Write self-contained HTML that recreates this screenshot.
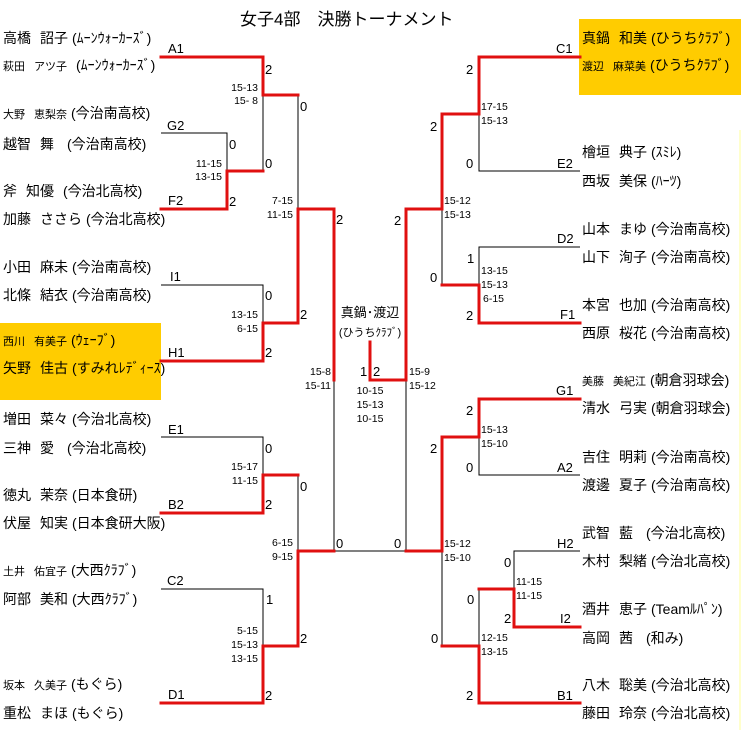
<!DOCTYPE html>
<html><head><meta charset="utf-8"><style>
body{margin:0;background:#fff;}
#c{position:relative;width:741px;height:742px;overflow:hidden;background:#fff;font-family:"Liberation Sans","Noto Sans CJK JP",sans-serif;color:#000;}
.t{position:absolute;white-space:nowrap;line-height:16px;height:16px;}
.n{font-size:14px;}
.s{font-size:10.5px;}
.sm{font-size:11px;}
.l{font-size:13px;}
i{display:inline-block;width:9px;}
b{font-weight:normal;display:inline-block;width:4px;}
</style></head><body><div id="c">
<div style="position:absolute;left:0;top:323px;width:161px;height:77px;background:#ffcc00"></div>
<div style="position:absolute;left:579px;top:19px;width:162px;height:76px;background:#ffcc00"></div>
<div style="position:absolute;left:739px;top:130px;width:2px;height:600px;background:#ffffcc"></div>
<svg width="741" height="742" style="position:absolute;left:0;top:0">
<g stroke="#000" stroke-width="1" fill="none">
<path d="M161 133H227V171M263 95V171M298 95V209M161 285H263V323M161 437H263V475M298 475V551M161 589H263V646M334 380V551H406V380M479 114V171H580M442 209V285M580 247H479V285M479 437V475H580M442 551V646M580 551H514V589M479 589V646"/>
</g>
<g stroke="#e01010" stroke-width="3" fill="none" stroke-linecap="square">
<path d="M161 57H263V95H298M161 209H227V171H263M298 209H334V380M161 361H263V323H298V209M161 513H263V475H298M161 703H263V646H298V551H334M370 342V380H406V209H442V114H479V57H580M479 285H442M580 323H479V285M580 399H479V437H442V551H406M580 627H514V589H479M580 703H479V646H442"/>
</g>
</svg>
<div class="t" style="left:240px;top:10px;font-size:17px;line-height:20px;height:20px">女子4部　決勝トーナメント</div>
<!-- left names -->
<div class="t n" style="left:3px;top:30px">高橋<i></i>詔子<b></b>(ﾑｰﾝｳｫｰｶｰｽﾞ)</div>
<div class="t n" style="left:3px;top:57px"><span class="sm">萩田<i></i>アツ子</span><i></i>(ﾑｰﾝｳｫｰｶｰｽﾞ)</div>
<div class="t n" style="left:3px;top:105px"><span class="sm">大野<i></i>恵梨奈</span><b></b>(今治南高校)</div>
<div class="t n" style="left:3px;top:136px">越智<i></i>舞<i></i><b></b>(今治南高校)</div>
<div class="t n" style="left:3px;top:183px">斧<i></i>知優<i></i>(今治北高校)</div>
<div class="t n" style="left:3px;top:211px">加藤<i></i>ささら<b></b>(今治北高校)</div>
<div class="t n" style="left:3px;top:259px">小田<i></i>麻未<b></b>(今治南高校)</div>
<div class="t n" style="left:3px;top:287px">北條<i></i>結衣<b></b>(今治南高校)</div>
<div class="t n" style="left:3px;top:332px"><span class="sm">西川<i></i>有美子</span><b></b>(ｳｪｰﾌﾞ)</div>
<div class="t n" style="left:3px;top:360px">矢野<i></i>佳古<b></b>(すみれﾚﾃﾞｨｰｽ)</div>
<div class="t n" style="left:3px;top:411px">増田<i></i>菜々<b></b>(今治北高校)</div>
<div class="t n" style="left:3px;top:440px">三神<i></i>愛<i></i><b></b>(今治北高校)</div>
<div class="t n" style="left:3px;top:487px">徳丸<i></i>茉奈<b></b>(日本食研)</div>
<div class="t n" style="left:3px;top:515px">伏屋<i></i>知実<b></b>(日本食研大阪)</div>
<div class="t n" style="left:3px;top:562px"><span class="sm">土井<i></i>佑宜子</span><b></b>(大西ｸﾗﾌﾞ)</div>
<div class="t n" style="left:3px;top:591px">阿部<i></i>美和<b></b>(大西ｸﾗﾌﾞ)</div>
<div class="t n" style="left:3px;top:676px"><span class="sm">坂本<i></i>久美子</span><b></b>(もぐら)</div>
<div class="t n" style="left:3px;top:705px">重松<i></i>まほ<b></b>(もぐら)</div>
<!-- right names -->
<div class="t n" style="left:582px;top:30px">真鍋<i></i>和美<b></b>(ひうちｸﾗﾌﾞ)</div>
<div class="t n" style="left:582px;top:57px"><span class="sm">渡辺<i></i>麻菜美</span><b></b>(ひうちｸﾗﾌﾞ)</div>
<div class="t n" style="left:582px;top:144px">檜垣<i></i>典子<b></b>(ｽﾐﾚ)</div>
<div class="t n" style="left:582px;top:173px">西坂<i></i>美保<b></b>(ﾊｰﾂ)</div>
<div class="t n" style="left:582px;top:221px">山本<i></i>まゆ<b></b>(今治南高校)</div>
<div class="t n" style="left:582px;top:249px">山下<i></i>洵子<b></b>(今治南高校)</div>
<div class="t n" style="left:582px;top:297px">本宮<i></i>也加<b></b>(今治南高校)</div>
<div class="t n" style="left:582px;top:325px">西原<i></i>桜花<b></b>(今治南高校)</div>
<div class="t n" style="left:582px;top:372px"><span class="sm">美藤<i></i>美紀江</span><b></b>(朝倉羽球会)</div>
<div class="t n" style="left:582px;top:400px">清水<i></i>弓実<b></b>(朝倉羽球会)</div>
<div class="t n" style="left:582px;top:449px">吉住<i></i>明莉<b></b>(今治南高校)</div>
<div class="t n" style="left:582px;top:477px">渡邊<i></i>夏子<b></b>(今治南高校)</div>
<div class="t n" style="left:582px;top:525px">武智<i></i>藍<i></i><b></b>(今治北高校)</div>
<div class="t n" style="left:582px;top:553px">木村<i></i>梨緒<b></b>(今治北高校)</div>
<div class="t n" style="left:582px;top:601px">酒井<i></i>恵子<b></b>(Teamﾙﾊﾟﾝ)</div>
<div class="t n" style="left:582px;top:630px">高岡<i></i>茜<i></i><b></b>(和み)</div>
<div class="t n" style="left:582px;top:677px">八木<i></i>聡美<b></b>(今治北高校)</div>
<div class="t n" style="left:582px;top:705px">藤田<i></i>玲奈<b></b>(今治北高校)</div>
<!-- left labels -->
<div class="t l" style="left:168px;top:41px">A1</div>
<div class="t l" style="left:265px;top:62px">2</div>
<div class="t s" style="right:483px;top:80px">15-13</div>
<div class="t s" style="right:483px;top:93px">15- 8</div>
<div class="t l" style="left:300px;top:99px">0</div>
<div class="t l" style="left:167px;top:118px">G2</div>
<div class="t l" style="left:229px;top:137px">0</div>
<div class="t s" style="right:519px;top:156px">11-15</div>
<div class="t s" style="right:519px;top:169px">13-15</div>
<div class="t l" style="left:265px;top:156px">0</div>
<div class="t l" style="left:168px;top:193px">F2</div>
<div class="t l" style="left:229px;top:194px">2</div>
<div class="t s" style="right:448px;top:193px">7-15</div>
<div class="t s" style="right:448px;top:207px">11-15</div>
<div class="t l" style="left:336px;top:212px">2</div>
<div class="t l" style="left:170px;top:269px">I1</div>
<div class="t l" style="left:265px;top:288px">0</div>
<div class="t s" style="right:483px;top:307px">13-15</div>
<div class="t s" style="right:483px;top:321px">6-15</div>
<div class="t l" style="left:300px;top:307px">2</div>
<div class="t l" style="left:168px;top:345px">H1</div>
<div class="t l" style="left:265px;top:345px">2</div>
<!-- center -->
<div class="t n" style="left:330px;top:305px;width:80px;text-align:center;font-size:13px">真鍋･渡辺</div>
<div class="t" style="left:330px;top:325px;width:80px;text-align:center;font-size:11px">(ひうちｸﾗﾌﾞ)</div>
<div class="t s" style="right:410px;top:364px">15-8</div>
<div class="t s" style="right:410px;top:378px">15-11</div>
<div class="t l" style="left:360px;top:364px">1</div>
<div class="t l" style="left:373px;top:364px">2</div>
<div class="t s" style="left:335px;top:383px;width:70px;text-align:center">10-15</div>
<div class="t s" style="left:335px;top:397px;width:70px;text-align:center">15-13</div>
<div class="t s" style="left:335px;top:411px;width:70px;text-align:center">10-15</div>
<div class="t s" style="left:409px;top:364px">15-9</div>
<div class="t s" style="left:409px;top:378px">15-12</div>
<!-- bottom left -->
<div class="t l" style="left:168px;top:422px">E1</div>
<div class="t l" style="left:265px;top:441px">0</div>
<div class="t s" style="right:483px;top:459px">15-17</div>
<div class="t s" style="right:483px;top:473px">11-15</div>
<div class="t l" style="left:300px;top:479px">0</div>
<div class="t l" style="left:168px;top:497px">B2</div>
<div class="t l" style="left:265px;top:497px">2</div>
<div class="t s" style="right:448px;top:535px">6-15</div>
<div class="t s" style="right:448px;top:549px">9-15</div>
<div class="t l" style="left:336px;top:536px">0</div>
<div class="t l" style="left:167px;top:573px">C2</div>
<div class="t l" style="left:266px;top:592px">1</div>
<div class="t s" style="right:483px;top:623px">5-15</div>
<div class="t s" style="right:483px;top:637px">15-13</div>
<div class="t s" style="right:483px;top:651px">13-15</div>
<div class="t l" style="left:300px;top:631px">2</div>
<div class="t l" style="left:168px;top:687px">D1</div>
<div class="t l" style="left:265px;top:688px">2</div>
<!-- right labels -->
<div class="t l" style="left:556px;top:41px">C1</div>
<div class="t l" style="left:466px;top:62px">2</div>
<div class="t s" style="left:481px;top:99px">17-15</div>
<div class="t s" style="left:481px;top:113px">15-13</div>
<div class="t l" style="left:430px;top:119px">2</div>
<div class="t l" style="left:466px;top:156px">0</div>
<div class="t l" style="left:557px;top:156px">E2</div>
<div class="t s" style="left:444px;top:193px">15-12</div>
<div class="t s" style="left:444px;top:207px">15-13</div>
<div class="t l" style="left:394px;top:213px">2</div>
<div class="t l" style="left:557px;top:231px">D2</div>
<div class="t l" style="left:467px;top:251px">1</div>
<div class="t s" style="left:481px;top:263px">13-15</div>
<div class="t s" style="left:481px;top:277px">15-13</div>
<div class="t s" style="left:483px;top:291px">6-15</div>
<div class="t l" style="left:430px;top:270px">0</div>
<div class="t l" style="left:466px;top:308px">2</div>
<div class="t l" style="left:560px;top:307px">F1</div>
<div class="t l" style="left:556px;top:383px">G1</div>
<div class="t l" style="left:466px;top:403px">2</div>
<div class="t s" style="left:481px;top:422px">15-13</div>
<div class="t s" style="left:481px;top:436px">15-10</div>
<div class="t l" style="left:430px;top:441px">2</div>
<div class="t l" style="left:466px;top:460px">0</div>
<div class="t l" style="left:557px;top:460px">A2</div>
<div class="t l" style="left:394px;top:536px">0</div>
<div class="t s" style="left:444px;top:536px">15-12</div>
<div class="t s" style="left:444px;top:550px">15-10</div>
<div class="t l" style="left:557px;top:536px">H2</div>
<div class="t l" style="left:504px;top:555px">0</div>
<div class="t s" style="left:516px;top:574px">11-15</div>
<div class="t s" style="left:516px;top:588px">11-15</div>
<div class="t l" style="left:467px;top:592px">0</div>
<div class="t l" style="left:504px;top:611px">2</div>
<div class="t l" style="left:560px;top:611px">I2</div>
<div class="t l" style="left:431px;top:631px">0</div>
<div class="t s" style="left:481px;top:630px">12-15</div>
<div class="t s" style="left:481px;top:644px">13-15</div>
<div class="t l" style="left:466px;top:688px">2</div>
<div class="t l" style="left:557px;top:688px">B1</div>
</div></body></html>
